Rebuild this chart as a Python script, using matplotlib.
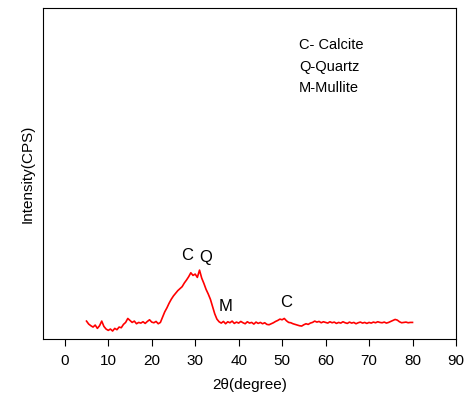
import matplotlib.pyplot as plt
import numpy as np

plt.rcParams['font.family'] = ['Liberation Sans', 'DejaVu Sans']

# 2-theta positions (degree), sampled every 0.5 from 5 to 80
two_theta = np.arange(5.0, 80.01, 0.5)

# intensity (arbitrary units, 0-100 axis)
intensity = [
    5.4, 4.5, 4.0, 3.6, 4.2, 3.2, 4.0, 5.4, 3.8, 3.0,      # 5.0 - 9.5
    2.6, 3.0, 2.4, 3.2, 2.8, 3.6, 3.4, 4.4, 5.0, 6.2,      # 10.0 - 14.5
    5.6, 5.0, 5.4, 4.6, 5.0, 4.8, 5.2, 4.7, 5.3, 5.8,      # 15.0 - 19.5
    5.1, 4.9, 5.3, 4.6, 5.0, 6.6, 8.2, 9.4, 10.8, 12.0,    # 20.0 - 24.5
    13.0, 13.8, 14.6, 15.2, 15.8, 16.9, 17.8, 18.8, 20.0, 19.2,  # 25.0 - 29.5
    19.6, 18.6, 20.8, 18.4, 16.8, 15.0, 13.6, 12.0, 9.8, 7.6,    # 30.0 - 34.5
    6.0, 5.2, 4.8, 5.3, 4.6, 5.2, 4.9, 5.4, 4.7, 5.1,      # 35.0 - 39.5
    4.8, 5.3, 4.9, 4.6, 5.2, 4.8, 5.0, 4.5, 5.1, 4.7,      # 40.0 - 44.5
    5.0, 4.6, 4.9, 4.4, 4.3, 4.6, 4.9, 5.3, 5.6, 6.0,      # 45.0 - 49.5
    5.8, 6.2, 5.5, 5.0, 4.9, 4.6, 4.4, 4.2, 4.0, 3.9,      # 50.0 - 54.5
    4.3, 4.6, 4.4, 4.8, 5.0, 5.4, 5.1, 5.3, 4.9, 5.2,      # 55.0 - 59.5
    5.0, 4.8, 5.2, 4.9, 5.1, 4.7, 5.0, 4.8, 5.2, 4.9,      # 60.0 - 64.5
    4.7, 5.1, 4.8, 5.0, 4.6, 4.9, 5.1, 4.8, 5.0, 4.7,      # 65.0 - 69.5
    5.0, 4.8, 5.1, 4.9, 5.2, 5.0, 4.9, 5.1, 4.8, 5.0,      # 70.0 - 74.5
    5.3, 5.6, 5.9, 5.7, 5.2, 4.9, 5.0, 5.1, 4.9, 5.0,      # 75.0 - 79.5
    5.0,                                                   # 80.0
]

peak_labels = ['C', 'Q', 'M', 'C']
peak_x = [28.1, 32.5, 37.1, 50.9]
peak_y = [25.1, 24.5, 9.7, 10.9]

legend_lines = ['C- Calcite', 'Q-Quartz', 'M-Mullite']

fig = plt.figure(figsize=(4.73, 3.96), dpi=100)
ax = fig.add_axes([0.091, 0.144, 0.873, 0.836])

ax.plot(two_theta, intensity, color='red', lw=1.2)

for lab, px, py in zip(peak_labels, peak_x, peak_y):
    ax.text(px, py, lab, ha='center', va='center', fontsize=12)

for i, line in enumerate(legend_lines):
    ax.text(0.62, 0.887 - i * 0.064, line, transform=ax.transAxes,
            ha='left', va='center', fontsize=10.5)

ax.set_xlim(-5, 90)
ax.set_ylim(0, 100)
ax.set_xticks(np.arange(0, 91, 10))
ax.set_yticks([])
ax.tick_params(axis='x', direction='out', length=5, labelsize=11, pad=6)
ax.set_xlabel('2\u03b8(degree)', fontsize=11, labelpad=7)
ax.set_ylabel('Intensity(CPS)', fontsize=11, labelpad=6)

fig.savefig('out.png', dpi=100)
